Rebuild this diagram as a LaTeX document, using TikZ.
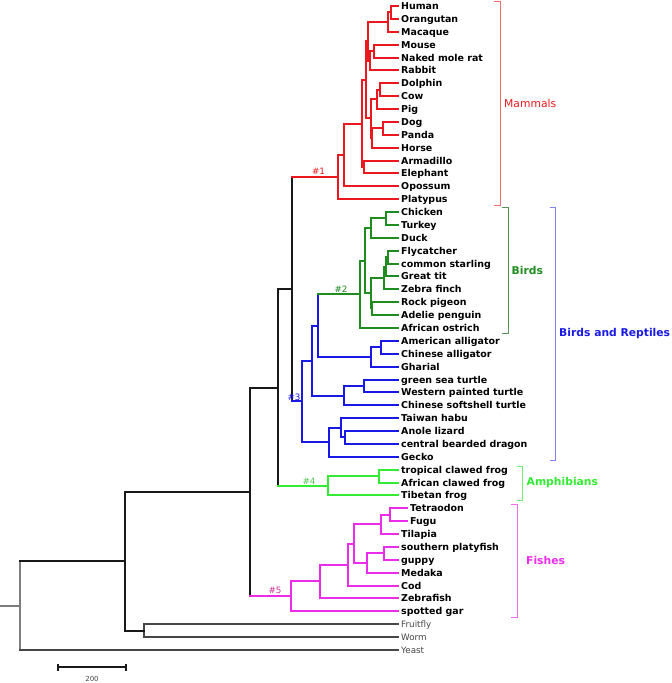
\documentclass[tikz,border=0pt]{standalone}
\usepackage{fontspec}
\setmainfont{DejaVu Sans}
\definecolor{mred}{RGB}{235,25,30}
\definecolor{bgreen}{RGB}{30,140,30}
\definecolor{rblue}{RGB}{25,25,230}
\definecolor{agreen}{RGB}{50,235,50}
\definecolor{fmag}{RGB}{235,45,235}
\definecolor{bk}{RGB}{25,25,25}
\definecolor{inv}{RGB}{70,70,70}
\definecolor{h5col}{RGB}{200,50,150}
\definecolor{h4col}{RGB}{80,200,80}
\newcommand\tbr[3]{\draw[br,#1] (#2 |- #3) -- (#3);}
\newcommand\tvr[4]{\draw[br,#1] (#2 |- #3) -- (#2 |- #4);}
\newcommand\tcl[6]{\tvr{#1}{#2}{#3}{#5}\tbr{#4}{#2}{#3}\tbr{#6}{#2}{#5}}
\begin{document}
\begin{tikzpicture}[x=1bp,y=-1bp,
  br/.style={line width=1.7bp,line cap=rect},
  brk/.style={line width=1bp},
  leaf/.style={anchor=west,inner xsep=3bp,inner ysep=0pt,text height=6.8pt,text depth=0pt,font=\fontsize{9.5}{10}\selectfont\bfseries},
  ileaf/.style={anchor=west,inner xsep=3bp,inner ysep=0pt,text height=6.2pt,text depth=0pt,text=inv,font=\fontsize{8.8}{10}\selectfont},
  glab/.style={anchor=west,inner sep=0pt,font=\fontsize{10.8}{12}\selectfont\bfseries},
  hlab/.style={inner sep=0pt,font=\fontsize{8.8}{9}\selectfont}]
\fill[white] (0,0) rectangle (672,683);
\useasboundingbox (0,0) rectangle (672,683);
% leaves
\node[leaf] (Human) at (398,6) {Human};
\node[leaf] (Orangutan) at (398,19) {Orangutan};
\node[leaf] (Macaque) at (398,32) {Macaque};
\node[leaf] (Mouse) at (398,45) {Mouse};
\node[leaf] (NMR) at (398,58) {Naked mole rat};
\node[leaf] (Rabbit) at (398,70) {Rabbit};
\node[leaf] (Dolphin) at (398,83) {Dolphin};
\node[leaf] (Cow) at (398,96) {Cow};
\node[leaf] (Pig) at (398,109) {Pig};
\node[leaf] (Dog) at (398,122) {Dog};
\node[leaf] (Panda) at (398,135) {Panda};
\node[leaf] (Horse) at (398,148) {Horse};
\node[leaf] (Armadillo) at (398,161) {Armadillo};
\node[leaf] (Elephant) at (398,173) {Elephant};
\node[leaf] (Opossum) at (398,186) {Opossum};
\node[leaf] (Platypus) at (398,199) {Platypus};
\node[leaf] (Chicken) at (398,212) {Chicken};
\node[leaf] (Turkey) at (398,225) {Turkey};
\node[leaf] (Duck) at (398,238) {Duck};
\node[leaf] (Flycatcher) at (398,251) {Flycatcher};
\node[leaf] (Starling) at (398,264) {common starling};
\node[leaf] (GreatTit) at (398,276) {Great tit};
\node[leaf] (ZFinch) at (398,289) {Zebra finch};
\node[leaf] (Pigeon) at (398,302) {Rock pigeon};
\node[leaf] (Penguin) at (398,315) {Adelie penguin};
\node[leaf] (Ostrich) at (398,328) {African ostrich};
\node[leaf] (AmAll) at (398,341) {American alligator};
\node[leaf] (ChAll) at (398,354) {Chinese alligator};
\node[leaf] (Gharial) at (398,367) {Gharial};
\node[leaf] (GSea) at (398,380) {green sea turtle};
\node[leaf] (WPaint) at (398,392) {Western painted turtle};
\node[leaf] (Soft) at (398,405) {Chinese softshell turtle};
\node[leaf] (Habu) at (398,418) {Taiwan habu};
\node[leaf] (Anole) at (398,431) {Anole lizard};
\node[leaf] (Dragon) at (398,444) {central bearded dragon};
\node[leaf] (Gecko) at (398,457) {Gecko};
\node[leaf] (TFrog) at (398,470) {tropical clawed frog};
\node[leaf] (AFrog) at (398,483) {African clawed frog};
\node[leaf] (TibFrog) at (398,495) {Tibetan frog};
\node[leaf] (Tetraodon) at (407,508) {Tetraodon};
\node[leaf] (Fugu) at (407,521) {Fugu};
\node[leaf] (Tilapia) at (398,534) {Tilapia};
\node[leaf] (Platy) at (398,547) {southern platyfish};
\node[leaf] (Guppy) at (398,560) {guppy};
\node[leaf] (Medaka) at (398,573) {Medaka};
\node[leaf] (Cod) at (398,586) {Cod};
\node[leaf] (ZFish) at (398,598) {Zebrafish};
\node[leaf] (Gar) at (398,611) {spotted gar};
\node[ileaf] (Fruitfly) at (398,624) {Fruitfly};
\node[ileaf] (Worm) at (398,637) {Worm};
\node[ileaf] (Yeast) at (398,650) {Yeast};
% internal nodes
\coordinate (HO) at (391,12);
\coordinate (HOM) at (388,22);
\coordinate (MN) at (374,51);
\coordinate (Gli) at (370,61);
\coordinate (Euar) at (368,41);
\coordinate (DC) at (380,90);
\coordinate (Cet) at (377,99);
\coordinate (DP) at (383,128);
\coordinate (CH) at (372,138);
\coordinate (Laur) at (371,118);
\coordinate (Boreo) at (366,80);
\coordinate (XA) at (364,167);
\coordinate (Euth) at (362,124);
\coordinate (Ther) at (344,155);
\coordinate (Mam) at (338,177);
\coordinate (CT) at (386,218);
\coordinate (Gall) at (371,228);
\coordinate (FS) at (388,257);
\coordinate (FSG) at (386,267);
\coordinate (Pass) at (384,278);
\coordinate (PP) at (372,308);
\coordinate (Neoa) at (371,293);
\coordinate (Neog) at (365,261);
\coordinate (Birds) at (360,294);
\coordinate (AC) at (381,347);
\coordinate (Croc) at (371,357);
\coordinate (Arch) at (318,326);
\coordinate (GW) at (364,386);
\coordinate (Turt) at (344,396);
\coordinate (Archelo) at (312,361);
\coordinate (AD) at (345,437);
\coordinate (HAD) at (341,428);
\coordinate (Squa) at (329,442);
\coordinate (Saur) at (302,401);
\coordinate (Amnio) at (292,289);
\coordinate (Xen) at (379,476);
\coordinate (Amph) at (328,486);
\coordinate (Tetra) at (278,388);
\coordinate (TF) at (390,515);
\coordinate (TFT) at (381,524);
\coordinate (PG) at (384,553);
\coordinate (PGM) at (367,563);
\coordinate (Perc) at (354,544);
\coordinate (PC) at (348,565);
\coordinate (PCZ) at (320,581);
\coordinate (Fish) at (291,596);
\coordinate (Oste) at (250,492);
\coordinate (FW) at (144,631);
\coordinate (Bilat) at (125,561);
\coordinate (Root) at (20,606);
\coordinate (RootStub) at (0,606);
% mammals
\tcl{mred}{HO}{Human}{mred}{Orangutan}{mred}
\tcl{mred}{HOM}{HO}{mred}{Macaque}{mred}
\tcl{mred}{MN}{Mouse}{mred}{NMR}{mred}
\tcl{mred}{Gli}{MN}{mred}{Rabbit}{mred}
\tcl{mred}{Euar}{HOM}{mred}{Gli}{mred}
\tcl{mred}{DC}{Dolphin}{mred}{Cow}{mred}
\tcl{mred}{Cet}{DC}{mred}{Pig}{mred}
\tcl{mred}{DP}{Dog}{mred}{Panda}{mred}
\tcl{mred}{CH}{DP}{mred}{Horse}{mred}
\tcl{mred}{Laur}{Cet}{mred}{CH}{mred}
\tcl{mred}{Boreo}{Euar}{mred}{Laur}{mred}
\tcl{mred}{XA}{Armadillo}{mred}{Elephant}{mred}
\tcl{mred}{Euth}{Boreo}{mred}{XA}{mred}
\tcl{mred}{Ther}{Euth}{mred}{Opossum}{mred}
\tcl{mred}{Mam}{Ther}{mred}{Platypus}{mred}
% birds
\tcl{bgreen}{CT}{Chicken}{bgreen}{Turkey}{bgreen}
\tcl{bgreen}{Gall}{CT}{bgreen}{Duck}{bgreen}
\tcl{bgreen}{FS}{Flycatcher}{bgreen}{Starling}{bgreen}
\tcl{bgreen}{FSG}{FS}{bgreen}{GreatTit}{bgreen}
\tcl{bgreen}{Pass}{FSG}{bgreen}{ZFinch}{bgreen}
\tcl{bgreen}{PP}{Pigeon}{bgreen}{Penguin}{bgreen}
\tcl{bgreen}{Neoa}{Pass}{bgreen}{PP}{bgreen}
\tcl{bgreen}{Neog}{Gall}{bgreen}{Neoa}{bgreen}
\tcl{bgreen}{Birds}{Neog}{bgreen}{Ostrich}{bgreen}
% reptiles
\tcl{rblue}{AC}{AmAll}{rblue}{ChAll}{rblue}
\tcl{rblue}{Croc}{AC}{rblue}{Gharial}{rblue}
\tcl{rblue}{Arch}{Birds}{bgreen}{Croc}{rblue}
\tcl{rblue}{GW}{GSea}{rblue}{WPaint}{rblue}
\tcl{rblue}{Turt}{GW}{rblue}{Soft}{rblue}
\tcl{rblue}{Archelo}{Arch}{rblue}{Turt}{rblue}
\tcl{rblue}{AD}{Anole}{rblue}{Dragon}{rblue}
\tcl{rblue}{HAD}{Habu}{rblue}{AD}{rblue}
\tcl{rblue}{Squa}{HAD}{rblue}{Gecko}{rblue}
\tcl{rblue}{Saur}{Archelo}{rblue}{Squa}{rblue}
% backbone
\tcl{bk}{Amnio}{Mam}{mred}{Saur}{rblue}
\tcl{agreen}{Xen}{TFrog}{agreen}{AFrog}{agreen}
\tcl{agreen}{Amph}{Xen}{agreen}{TibFrog}{agreen}
\tcl{bk}{Tetra}{Amnio}{bk}{Amph}{agreen}
% fishes
\tcl{fmag}{TF}{Tetraodon}{fmag}{Fugu}{fmag}
\tcl{fmag}{TFT}{TF}{fmag}{Tilapia}{fmag}
\tcl{fmag}{PG}{Platy}{fmag}{Guppy}{fmag}
\tcl{fmag}{PGM}{PG}{fmag}{Medaka}{fmag}
\tcl{fmag}{Perc}{TFT}{fmag}{PGM}{fmag}
\tcl{fmag}{PC}{Perc}{fmag}{Cod}{fmag}
\tcl{fmag}{PCZ}{PC}{fmag}{ZFish}{fmag}
\tcl{fmag}{Fish}{PCZ}{fmag}{Gar}{fmag}
\tcl{bk}{Oste}{Tetra}{bk}{Fish}{fmag}
\tcl{inv}{FW}{Fruitfly}{inv}{Worm}{inv}
\tcl{bk}{Bilat}{Oste}{bk}{FW}{bk}
\tcl{inv!70}{Root}{Bilat}{bk}{Yeast}{inv}
\draw[br,inv!70] (RootStub) -- (Root);
% clade numbers
\node[hlab,text=mred] (h1) at (318.5,171.5) {\#1};
\node[hlab,text=bgreen] (h2) at (341,289.5) {\#2};
\node[hlab,text=rblue] (h3) at (294,397.5) {\#3};
\node[hlab,text=h4col] (h4) at (309,481) {\#4};
\node[hlab,text=h5col] (h5) at (275,590) {\#5};
% brackets
\draw[brk,mred!65] (493.5,1.5) -- (500.5,1.5) -- (500.5,205.5) -- (493.5,205.5);
\node[glab,font=\fontsize{10.8}{12}\selectfont,text=mred] (gMam) at (504,103) {Mammals};
\draw[brk,bgreen!60!gray!90] (501.5,207.5) -- (508.5,207.5) -- (508.5,333.5) -- (501.5,333.5);
\node[glab,text=bgreen] (gBirds) at (511.5,270) {Birds};
\draw[brk,rblue!55] (549.5,207.5) -- (555.5,207.5) -- (555.5,460.5) -- (549.5,460.5);
\node[glab,text=rblue] (gBR) at (559,334) {Birds and Reptiles};
\draw[brk,agreen!70] (516.5,466.5) -- (522.5,466.5) -- (522.5,500.5) -- (516.5,500.5);
\node[glab,text=agreen] (gAmph) at (526.5,483) {Amphibians};
\draw[brk,fmag!70] (510.5,504.5) -- (517.5,504.5) -- (517.5,617.5) -- (510.5,617.5);
\node[glab,text=fmag] (gFish) at (526,560) {Fishes};
% scale bar
\coordinate (sbL) at (58,667);
\coordinate (sbR) at (126,667);
\draw[line width=1.5bp,bk] (sbL) -- (sbR);
\draw[line width=1.5bp,bk] ([yshift=-3.5bp]sbL) -- ([yshift=3.5bp]sbL);
\draw[line width=1.5bp,bk] ([yshift=-3.5bp]sbR) -- ([yshift=3.5bp]sbR);
\node[inner sep=0pt,text=inv,font=\fontsize{7}{8}\selectfont] (sbT) at (92,679) {200};
\end{tikzpicture}
\end{document}
